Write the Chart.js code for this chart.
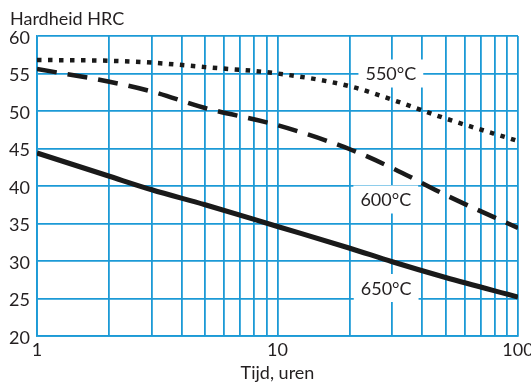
<!DOCTYPE html>
<html>
<head>
<meta charset="utf-8">
<script src="https://cdn.jsdelivr.net/npm/chart.js@4"></script>
<style>
  body { margin: 0; background: #fff; }
</style>
</head>
<body>
<canvas id="hardness" width="531" height="385"></canvas>
<script>
// Tijd in uren (log schaal) en hardheid per ontlaattemperatuur
const hours = [1, 2, 3, 5, 10, 20, 30, 50, 100];
const hrc550 = [56.8, 56.7, 56.45, 55.85, 55.0, 53.3, 51.5, 49.0, 46.0];
const hrc600 = [55.6, 53.9, 52.6, 50.4, 48.1, 44.9, 42.4, 38.8, 34.4];
const hrc650 = [44.4, 41.3, 39.5, 37.5, 34.6, 31.7, 29.9, 27.8, 25.2];

const xTicks = [1, 2, 3, 4, 5, 6, 7, 8, 9, 10, 20, 30, 40, 50, 60, 70, 80, 90, 100];
const xLabels = [1, 10, 100];

// label: tekst, x (uren), y (HRC)
const curveLabels = [
    { text: '550°C', x: 29.6, y: 55.0 },
    { text: '600°C', x: 28.2, y: 38.2 },
    { text: '650°C', x: 28.3, y: 26.4 }
];

const gridColor = '#1c9ad6';
const textColor = '#231f20';
const fontFamily = 'Lato, "Open Sans", sans-serif';

const toPoints = values => values.map((v, i) => ({ x: hours[i], y: v }));

const labelPlugin = {
    id: 'curveLabels',
    beforeDatasetsDraw(chart) {
        const ctx = chart.ctx;
        const sx = chart.scales.x, sy = chart.scales.y;
        ctx.save();
        ctx.font = '18px ' + fontFamily;
        ctx.textAlign = 'center';
        ctx.textBaseline = 'middle';
        curveLabels.forEach(l => {
            const px = sx.getPixelForValue(l.x);
            const py = sy.getPixelForValue(l.y);
            const w = ctx.measureText(l.text).width + 14;
            ctx.fillStyle = '#fff';
            ctx.fillRect(px - w / 2, py - 14, w, 28);
            ctx.fillStyle = textColor;
            ctx.fillText(l.text, px, py + 1);
        });
        ctx.restore();
    },
    afterDraw(chart) {
        const ctx = chart.ctx;
        ctx.save();
        ctx.font = '18px ' + fontFamily;
        ctx.fillStyle = textColor;
        ctx.textBaseline = 'alphabetic';
        ctx.fillText('Hardheid HRC', 10, 25);
        ctx.restore();
    }
};

new Chart(document.getElementById('hardness'), {
    type: 'line',
    data: {
        datasets: [
            {
                label: '550°C',
                data: toPoints(hrc550),
                borderColor: '#1a1a1a',
                borderWidth: 4.5,
                borderDash: [4.5, 6.5],
                borderCapStyle: 'butt',
                pointRadius: 0,
                cubicInterpolationMode: 'monotone'
            },
            {
                label: '600°C',
                data: toPoints(hrc600),
                borderColor: '#1a1a1a',
                borderWidth: 4.5,
                borderDash: [20, 11],
                borderCapStyle: 'butt',
                pointRadius: 0,
                cubicInterpolationMode: 'monotone'
            },
            {
                label: '650°C',
                data: toPoints(hrc650),
                borderColor: '#1a1a1a',
                borderWidth: 5,
                pointRadius: 0,
                cubicInterpolationMode: 'monotone'
            }
        ]
    },
    options: {
        responsive: false,
        animation: false,
        devicePixelRatio: 1,
        layout: { padding: { top: 36, right: 13, left: 0, bottom: 0 } },
        plugins: {
            legend: { display: false },
            tooltip: { enabled: false }
        },
        scales: {
            x: {
                type: 'logarithmic',
                min: 1,
                max: 100,
                afterFit: scale => {
                    scale.height = 49;
                    scale.paddingLeft = 0;
                    scale.paddingRight = 0;
                },
                afterBuildTicks: scale => {
                    scale.ticks = xTicks.map(v => ({ value: v }));
                },
                grid: { color: gridColor, lineWidth: 1.8, drawTicks: false },
                border: { color: gridColor, width: 1.8 },
                ticks: {
                    autoSkip: false,
                    maxRotation: 0,
                    padding: 3,
                    color: textColor,
                    font: { family: fontFamily, size: 18 },
                    callback: v => xLabels.includes(v) ? String(v) : ''
                },
                title: {
                    display: true,
                    text: 'Tijd, uren',
                    color: textColor,
                    font: { family: fontFamily, size: 18 },
                    padding: { top: 0, bottom: 1 }
                }
            },
            y: {
                min: 20,
                max: 60,
                afterFit: scale => {
                    scale.width = 37;
                    scale.paddingTop = 0;
                    scale.paddingBottom = 0;
                },
                grid: { color: gridColor, lineWidth: 1.8, drawTicks: false },
                border: { color: gridColor, width: 1.8 },
                ticks: {
                    stepSize: 5,
                    padding: 7,
                    labelOffset: 2,
                    color: textColor,
                    font: { family: fontFamily, size: 18 }
                }
            }
        }
    },
    plugins: [labelPlugin]
});
</script>
</body>
</html>
